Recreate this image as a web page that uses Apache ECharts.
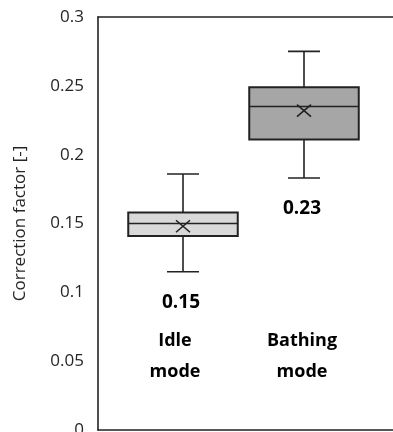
<!DOCTYPE html>
<html>
<head>
<meta charset="utf-8">
<style>
  html, body { margin: 0; padding: 0; background: #fff; overflow: hidden; }
  #chart { width: 393px; height: 432px; }
</style>
<script src="https://cdn.jsdelivr.net/npm/echarts@6/dist/echarts.min.js"></script>
</head>
<body>
<div id="chart"></div>
<script>
// 数据
var categories = ['Idle\nmode', 'Bathing\nmode'];
var whiskerLow = [0.115, 0.183];
var q1 = [0.141, 0.211];
var median = [0.150, 0.235];
var q3 = [0.158, 0.249];
var whiskerHigh = [0.186, 0.275];
var means = [0.148, 0.232];
var meanLabels = ['0.15', '0.23'];
var boxColors = ['#d9d9d9', '#a6a6a6'];

var rows = categories.map(function (c, i) {
    return [i + 1, whiskerLow[i], q1[i], median[i], q3[i], whiskerHigh[i], means[i]];
});

var stroke = '#222';

function renderBox(params, api) {
    var i = params.dataIndex;
    var x = api.value(0);
    var pLo = api.coord([x, api.value(1)]);
    var pQ1 = api.coord([x, api.value(2)]);
    var pMed = api.coord([x, api.value(3)]);
    var pQ3 = api.coord([x, api.value(4)]);
    var pHi = api.coord([x, api.value(5)]);
    var pMean = api.coord([x, api.value(6)]);
    var pName = api.coord([x, 0.0535]);
    var bw = api.size([1, 0])[0] * 0.905;
    var cap = 16;
    var cx = pLo[0];
    var lineStyle = { stroke: stroke, lineWidth: 1.6 };
    return {
        type: 'group',
        children: [
            // 须线
            { type: 'line', shape: { x1: cx, y1: pHi[1], x2: cx, y2: pQ3[1] }, style: lineStyle },
            { type: 'line', shape: { x1: cx, y1: pQ1[1], x2: cx, y2: pLo[1] }, style: lineStyle },
            { type: 'line', shape: { x1: cx - cap, y1: pHi[1], x2: cx + cap, y2: pHi[1] }, style: lineStyle },
            { type: 'line', shape: { x1: cx - cap, y1: pLo[1], x2: cx + cap, y2: pLo[1] }, style: lineStyle },
            // 箱体
            {
                type: 'rect',
                shape: { x: cx - bw / 2, y: pQ3[1], width: bw, height: pQ1[1] - pQ3[1] },
                style: { fill: boxColors[i], stroke: stroke, lineWidth: 2 }
            },
            { type: 'line', shape: { x1: cx - bw / 2, y1: pMed[1], x2: cx + bw / 2, y2: pMed[1] }, style: lineStyle },
            // 均值 ×
            { type: 'line', shape: { x1: cx - 7, y1: pMean[1] - 6, x2: cx + 7, y2: pMean[1] + 6 }, style: lineStyle },
            { type: 'line', shape: { x1: cx - 7, y1: pMean[1] + 6, x2: cx + 7, y2: pMean[1] - 6 }, style: lineStyle },
            // 文字
            {
                type: 'text',
                style: {
                    x: cx - 2, y: pLo[1] + 31, text: meanLabels[i],
                    align: 'center', verticalAlign: 'middle',
                    font: 'bold 19px "Open Sans", sans-serif', fill: '#000'
                }
            },
            {
                type: 'text',
                style: {
                    x: cx - (i === 0 ? 8 : 2), y: pName[1], text: categories[i],
                    align: 'center', verticalAlign: 'middle', lineHeight: 31,
                    font: 'bold 18px "Open Sans", sans-serif', fill: '#000'
                }
            }
        ]
    };
}

// x轴：底边和顶边各一条线，右侧不画边框
var xAxisBase = {
    type: 'value',
    min: 0.2975,
    max: 2.7355,
    axisLabel: { show: false },
    axisTick: { show: false },
    splitLine: { show: false },
    axisLine: { show: true, onZero: false, lineStyle: { color: stroke, width: 1.6 } }
};

var myChart = echarts.init(document.getElementById('chart'));
var option = {
    animation: false,
    grid: {
        left: 98,
        top: 17,
        right: 0,
        bottom: 2,
        outerBoundsMode: 'none'
    },
    xAxis: [
        Object.assign({ position: 'bottom' }, xAxisBase),
        Object.assign({ position: 'top' }, xAxisBase)
    ],
    yAxis: {
        type: 'value',
        min: 0,
        max: 0.3,
        interval: 0.05,
        name: 'Correction factor [-]',
        nameLocation: 'middle',
        nameGap: 69,
        nameTextStyle: { color: '#262626', fontSize: 17, fontFamily: 'Open Sans' },
        axisLine: { show: true, lineStyle: { color: stroke, width: 1.6 } },
        axisTick: { show: false },
        splitLine: { show: false },
        axisLabel: {
            margin: 14,
            color: '#262626',
            fontSize: 17,
            fontFamily: 'Open Sans'
        }
    },
    series: [
        {
            type: 'custom',
            renderItem: renderBox,
            data: rows,
            clip: false
        }
    ]
};
myChart.setOption(option);
</script>
</body>
</html>
